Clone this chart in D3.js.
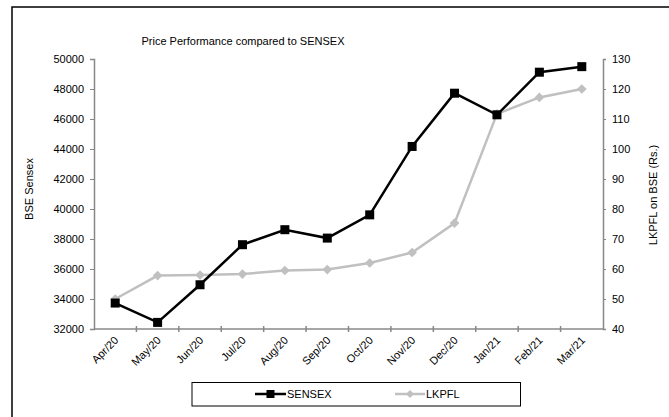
<!DOCTYPE html>
<html><head><meta charset="utf-8">
<script src="https://cdn.jsdelivr.net/npm/d3@7"></script>
<style>body{margin:0;background:#fff}svg{display:block}text{font-family:"Liberation Sans",Arial,sans-serif}</style>
</head><body><svg id="c" width="669" height="417"></svg>
<script>
const months = ["Apr/20","May/20","Jun/20","Jul/20","Aug/20","Sep/20","Oct/20","Nov/20","Dec/20","Jan/21","Feb/21","Mar/21"];
const sensex = [33730,32440,34950,37620,38620,38060,39610,44170,47720,46280,49120,49490];
const lkpfl = [50.0,57.8,58.0,58.3,59.5,59.8,62.0,65.5,75.3,111.7,117.2,120.0];
const leftTicks = [32000,34000,36000,38000,40000,42000,44000,46000,48000,50000];
const rightTicks = [40,50,60,70,80,90,100,110,120,130];

const svg = d3.select("#c");
const L=94, R=603, T=59, B=329;
svg.append("rect").attr("x",12).attr("y",7).attr("width",700).attr("height",460)
  .attr("fill","#fff").attr("stroke","#000").attr("stroke-width",1.5);

const x = d3.scaleBand().domain(months).range([L,R]);
const yL = d3.scaleLinear().domain([32000,50000]).range([B,T]);
const yR = d3.scaleLinear().domain([40,130]).range([B,T]);
const cx = d => x(d)+x.bandwidth()/2;

// left axis
const gl = svg.append("g").attr("transform",`translate(${L},0)`)
  .call(d3.axisLeft(yL).tickValues(leftTicks).tickSize(4).tickPadding(6).tickFormat(d3.format("d")));
gl.select(".domain").attr("stroke","#888").attr("stroke-width",1.5);
gl.selectAll(".tick line").attr("stroke","#888");
gl.selectAll("text").attr("font-size",11).attr("fill","#000");

// right axis
const gr = svg.append("g").attr("transform",`translate(${R},0)`)
  .call(d3.axisRight(yR).tickValues(rightTicks).tickSize(3).tickPadding(6));
gr.select(".domain").attr("stroke","#888").attr("stroke-width",1.5);
gr.selectAll(".tick line").attr("stroke","#888");
gr.selectAll("text").attr("font-size",11).attr("fill","#000");

// x axis
svg.append("line").attr("x1",L).attr("x2",R).attr("y1",B).attr("y2",B).attr("stroke","#888").attr("stroke-width",1.5);
svg.append("g").selectAll("line").data(months.slice(1)).join("line")
  .attr("x1",d=>x(d)).attr("x2",d=>x(d)).attr("y1",B-3).attr("y2",B+3).attr("stroke","#888").attr("stroke-width",1.5);
svg.append("g").selectAll("text").data(months).join("text")
  .attr("transform",d=>`translate(${cx(d)+4},${B+12}) rotate(-45)`)
  .attr("text-anchor","end").attr("font-size",11).text(d=>d);

// lines
const lineL = d3.line().x((d,i)=>cx(months[i])).y(d=>yL(d));
const lineR = d3.line().x((d,i)=>cx(months[i])).y(d=>yR(d));
svg.append("path").datum(lkpfl).attr("d",lineR).attr("fill","none").attr("stroke","#c0c0c0").attr("stroke-width",2.5);
svg.append("g").selectAll("path").data(lkpfl).join("path")
  .attr("d",d3.symbol(d3.symbolDiamond2,60)).attr("fill","#c0c0c0")
  .attr("transform",(d,i)=>`translate(${cx(months[i])},${yR(d)})`);
svg.append("path").datum(sensex).attr("d",lineL).attr("fill","none").attr("stroke","#000").attr("stroke-width",2.5);
svg.append("g").selectAll("rect").data(sensex).join("rect")
  .attr("x",(d,i)=>cx(months[i])-4.5).attr("y",d=>yL(d)-4.5).attr("width",9).attr("height",9).attr("fill","#000");

// title
svg.append("text").attr("x",243).attr("y",45).attr("text-anchor","middle").attr("font-size",11).text("Price Performance compared to SENSEX");
svg.append("text").attr("transform","translate(33,189) rotate(-90)").attr("text-anchor","middle").attr("font-size",11).text("BSE Sensex");
svg.append("text").attr("transform","translate(657,195) rotate(-90)").attr("text-anchor","middle").attr("font-size",11).text("LKPFL on BSE (Rs.)");

// legend
const lg = svg.append("g");
lg.append("rect").attr("x",192).attr("y",382.5).attr("width",328.5).attr("height",23.5).attr("fill","#fff").attr("stroke","#000").attr("stroke-width",1);
lg.append("line").attr("x1",255).attr("x2",286).attr("y1",394).attr("y2",394).attr("stroke","#000").attr("stroke-width",2.5);
lg.append("rect").attr("x",266.5).attr("y",390).attr("width",8).attr("height",8).attr("fill","#000");
lg.append("text").attr("x",287).attr("y",398).attr("font-size",11).text("SENSEX");
lg.append("line").attr("x1",395).attr("x2",425).attr("y1",394).attr("y2",394).attr("stroke","#c0c0c0").attr("stroke-width",2.5);
lg.append("path").attr("d",d3.symbol(d3.symbolDiamond2,40)).attr("fill","#c0c0c0").attr("transform","translate(410,394)");
lg.append("text").attr("x",426).attr("y",398).attr("font-size",11).text("LKPFL");
</script></body></html>
